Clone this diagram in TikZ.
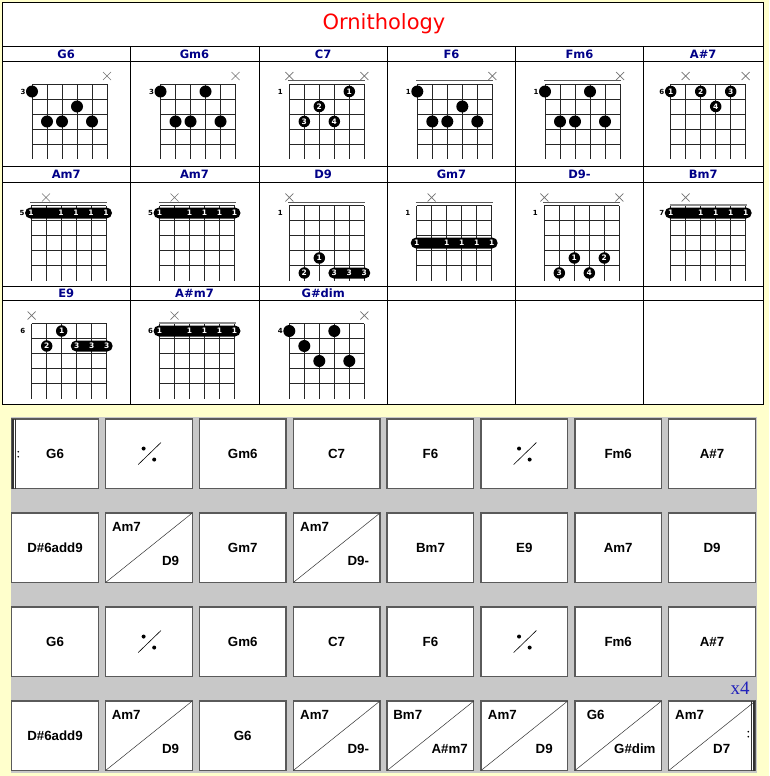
\documentclass[tikz,border=0pt]{standalone}
\usepackage{fontspec}
\setmainfont{DejaVu Sans}
\newfontfamily\arialf{Liberation Sans}
\newfontfamily\serf{Liberation Serif}
\usetikzlibrary{calc}
\definecolor{bgyellow}{HTML}{FFFFCC}
\definecolor{graybg}{HTML}{C8C8C8}
\definecolor{navyc}{HTML}{000088}
\definecolor{boxedge}{HTML}{5A5A5A}
\definecolor{xblue}{HTML}{2222BB}
\tikzset{
  gridline/.style={line width=0.8pt, black!85},
  tabline/.style={line width=0.9pt, black},
  nutline/.style={line width=1pt, black!65},
  graytop/.style={line width=2.4pt, black!45},
  hdr/.style={font=\bfseries\fontsize{11.5}{12}\selectfont, text=navyc, inner sep=0},
  fretnum/.style={font=\bfseries\fontsize{7}{8}\selectfont, inner sep=0},
  fdot/.style={circle, fill=black, inner sep=0, minimum size=11.5pt, text=white, font=\bfseries\fontsize{7.5}{8}\selectfont},
  barnum/.style={text=white, font=\bfseries\fontsize{7.5}{8}\selectfont, inner sep=0},
  xmark/.style={draw=black!55, line width=0.7pt},
  barbox/.style={fill=white, draw=boxedge, line width=1.3pt, minimum width=86.7pt, minimum height=69.5pt, outer sep=0pt, inner sep=0pt},
  chordtxt/.style={font=\arialf\bfseries\fontsize{13.3}{14}\selectfont, inner sep=0},
}
% chord diagram helpers (local coords: grid top-left at origin)
\newcommand{\cgrid}[1]{%
  \foreach \i in {0,...,5} \draw[gridline] (15*\i,0) -- (15*\i,75);
  \foreach \j in {0,...,4} \draw[gridline] (0,15*\j) -- (75,15*\j);
  \node[fretnum] at (-9,7.5) {#1};}
\newcommand{\cnut}{\draw[nutline] (-1,-3.5) -- (76,-3.5);}
\newcommand{\cgtop}{\draw[graytop] (-1,-0.5) -- (76,-0.5);}
\newcommand{\cx}[1]{\draw[xmark] (15*#1-4,-12) -- (15*#1+4,-4) (15*#1-4,-4) -- (15*#1+4,-12);}
\newcommand{\cdt}[2]{\fill (15*#1,15*#2-7.5) circle (6);}
\newcommand{\cfd}[3]{\node[fdot] at (15*#1,15*#2-7.5) {#3};}
\newcommand{\cbar}[5]{\fill[rounded corners=5.5pt] (15*#1-6,15*#3-13) rectangle (15*#2+6,15*#3-2);
  \foreach \s in {#5} \node[barnum] at (15*\s,15*#3-7.5) {#4};}
% bar grid helpers
\newcommand{\bx}[3]{\node[barbox] (#1) at ({11.7+93.86*#2+43.35},{419+94*#3+34.75}) {};}
\newcommand{\one}[2]{\node[chordtxt] at (#1.center) {#2};}
\newcommand{\simile}[1]{\begin{scope}[shift={(#1.center)}]
  \draw[line width=0.6pt] (-10.7,10.8) -- (12,-11.2);
  \fill (-5.3,-5.2) circle (2); \fill (5.3,5.8) circle (2);
  \end{scope}}
\newcommand{\spl}[5]{\draw[line width=0.5pt, black!80] (#1.south west) -- (#1.north east);
  \node[chordtxt, anchor=west] at ($(#1.north west)+(#4,13.5)$) {#2};
  \node[chordtxt] at ($(#1.north west)+(#5,47.5)$) {#3};}
\begin{document}
\begin{tikzpicture}[x=1pt,y=-1pt]
\useasboundingbox (0,0) rectangle (769,776);
\fill[bgyellow] (0,0) rectangle (769,776);
% ---- chord table ----
\fill[white] (2.5,2) rectangle (763,404.5);
\draw[tabline] (2.5,2) rectangle (763,404.5);
\foreach \yy in {46.5,61.3,166,182.3,286,300.3} \draw[tabline] (2.5,\yy) -- (763,\yy);
\foreach \xx in {130,259,387.5,515.5,643.5} \draw[tabline] (\xx,46.5) -- (\xx,404.5);
\node[font=\fontsize{21}{24}\selectfont, text=red, inner sep=0] (title) at (384,24) {Ornithology};
% headers
\node[hdr] (h1) at (66.2,54) {G6};
\node[hdr] (h2) at (194.5,54) {Gm6};
\node[hdr] (h3) at (323.2,54) {C7};
\node[hdr] (h4) at (451.5,54) {F6};
\node[hdr] (h5) at (579.5,54) {Fm6};
\node[hdr] (h6) at (703.2,54) {A\#7};
\node[hdr] (h7) at (66.2,174.2) {Am7};
\node[hdr] (h8) at (194.5,174.2) {Am7};
\node[hdr] (h9) at (323.2,174.2) {D9};
\node[hdr] (h10) at (451.5,174.2) {Gm7};
\node[hdr] (h11) at (579.5,174.2) {D9-};
\node[hdr] (h12) at (703.2,174.2) {Bm7};
\node[hdr] (h13) at (66.2,293.2) {E9};
\node[hdr] (h14) at (194.5,293.2) {A\#m7};
\node[hdr] (h15) at (323.2,293.2) {G\#dim};
% row 1 diagrams
\begin{scope}[shift={(32,84)}] \cgrid{3} \cx{5} \cdt{0}{1} \cdt{3}{2} \cdt{1}{3} \cdt{2}{3} \cdt{4}{3} \end{scope}
\begin{scope}[shift={(160.5,84)}] \cgrid{3} \cx{5} \cdt{0}{1} \cdt{3}{1} \cdt{1}{3} \cdt{2}{3} \cdt{4}{3} \end{scope}
\begin{scope}[shift={(289.3,84)}] \cgrid{1} \cnut \cx{0} \cx{5} \cfd{4}{1}{1} \cfd{2}{2}{2} \cfd{1}{3}{3} \cfd{3}{3}{4} \end{scope}
\begin{scope}[shift={(417.3,84)}] \cgrid{1} \cnut \cx{5} \cdt{0}{1} \cdt{3}{2} \cdt{1}{3} \cdt{2}{3} \cdt{4}{3} \end{scope}
\begin{scope}[shift={(545,84)}] \cgrid{1} \cnut \cx{5} \cdt{0}{1} \cdt{3}{1} \cdt{1}{3} \cdt{2}{3} \cdt{4}{3} \end{scope}
\begin{scope}[shift={(670.7,84)}] \cgrid{6} \cx{1} \cx{5} \cfd{0}{1}{1} \cfd{2}{1}{2} \cfd{4}{1}{3} \cfd{3}{2}{4} \end{scope}
% row 2 diagrams
\begin{scope}[shift={(31,205.5)}] \cgrid{5} \cnut \cx{1} \cbar{0}{5}{1}{1}{0,2,3,4,5} \end{scope}
\begin{scope}[shift={(159.5,205.5)}] \cgrid{5} \cnut \cx{1} \cbar{0}{5}{1}{1}{0,2,3,4,5} \end{scope}
\begin{scope}[shift={(289.3,205.5)}] \cgrid{1} \cnut \cx{0} \cfd{2}{4}{1} \cfd{1}{5}{2} \cbar{3}{5}{5}{3}{3,4,5} \end{scope}
\begin{scope}[shift={(416.7,205.5)}] \cgrid{1} \cnut \cx{1} \cbar{0}{5}{3}{1}{0,2,3,4,5} \end{scope}
\begin{scope}[shift={(544.3,205.5)}] \cgrid{1} \cnut \cx{0} \cx{5} \cfd{2}{4}{1} \cfd{4}{4}{2} \cfd{1}{5}{3} \cfd{3}{5}{4} \end{scope}
\begin{scope}[shift={(670.7,205.5)}] \cgrid{7} \cgtop \cx{1} \cbar{0}{5}{1}{1}{0,2,3,4,5} \end{scope}
% row 3 diagrams
\begin{scope}[shift={(31.7,323.5)}] \cgrid{6} \cx{0} \cfd{2}{1}{1} \cfd{1}{2}{2} \cbar{3}{5}{2}{3}{3,4,5} \end{scope}
\begin{scope}[shift={(159.5,323.5)}] \cgrid{6} \cgtop \cx{1} \cbar{0}{5}{1}{1}{0,2,3,4,5} \end{scope}
\begin{scope}[shift={(289.3,323.5)}] \cgrid{4} \cx{5} \cdt{0}{1} \cdt{3}{1} \cdt{1}{2} \cdt{2}{3} \cdt{4}{3} \end{scope}
% ---- bar grid ----
\fill[graybg] (11,417) rectangle (757,773);
\foreach \c in {0,...,7} { \bx{b0\c}{\c}{0} \bx{b1\c}{\c}{1} \bx{b2\c}{\c}{2} \bx{b3\c}{\c}{3} }
% row 1
\one{b00}{G6} \simile{b01} \one{b02}{Gm6} \one{b03}{C7} \one{b04}{F6} \simile{b05} \one{b06}{Fm6} \one{b07}{A\#7}
% row 2
\one{b10}{D\#6add9} \spl{b11}{Am7}{D9}{6.3}{65} \one{b12}{Gm7} \spl{b13}{Am7}{D9-}{6.7}{65}
\one{b14}{Bm7} \one{b15}{E9} \one{b16}{Am7} \one{b17}{D9}
% row 3
\one{b20}{G6} \simile{b21} \one{b22}{Gm6} \one{b23}{C7} \one{b24}{F6} \simile{b25} \one{b26}{Fm6} \one{b27}{A\#7}
% row 4
\one{b30}{D\#6add9} \spl{b31}{Am7}{D9}{6}{65} \one{b32}{G6} \spl{b33}{Am7}{D9-}{6.7}{65}
\spl{b34}{Bm7}{A\#m7}{6}{62.5} \spl{b35}{Am7}{D9}{6.7}{63.2} \spl{b36}{G6}{G\#dim}{11.7}{60} \spl{b37}{Am7}{D7}{6.3}{53}
% repeat signs
\draw[line width=2pt, black!80] (13,419) -- (13,488.5);
\draw[line width=0.8pt, black!80] (15.8,419) -- (15.8,488.5);
\fill (18.3,451.7) circle (0.9); \fill (18.3,456.7) circle (0.9);
\draw[line width=0.8pt, black!80] (751.2,701) -- (751.2,770.5);
\draw[line width=2pt, black!80] (754.4,701) -- (754.4,770.5);
\fill (748.3,731.7) circle (0.9); \fill (748.3,736.7) circle (0.9);
\node[font=\serf\fontsize{19}{20}\selectfont, text=xblue, inner sep=0] (rep) at (740,688.5) {x4};
\end{tikzpicture}
\end{document}
